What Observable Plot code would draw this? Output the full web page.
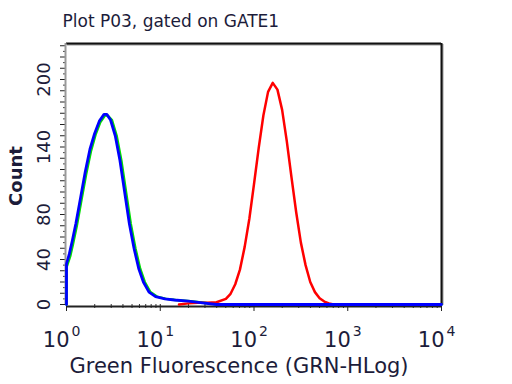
<!DOCTYPE html>
<html><head><meta charset="utf-8">
<script src="https://cdn.jsdelivr.net/npm/d3@7"></script>
<script src="https://cdn.jsdelivr.net/npm/@observablehq/plot@0.6"></script>
<style>body{margin:0;background:#fff} svg{font-family:"DejaVu Sans",sans-serif}</style>
</head><body><div id="chart"></div>
<script>
const title = "Plot P03, gated on GATE1";
const xLabel = "Green Fluorescence (GRN-HLog)";
const yLabel = "Count";
const xDecades = [0, 1, 2, 3, 4];
const yTickLabels = [0, 40, 80, 140, 200];

// log10 of fluorescence, and counts
const blueLog = [0, 0, 0.03, 0.06, 0.1, 0.15, 0.2, 0.25, 0.3, 0.35, 0.4, 0.43, 0.47, 0.52, 0.57, 0.62, 0.67, 0.72, 0.77, 0.82, 0.88, 0.95, 1.05, 1.15, 1.3, 1.45, 1.6, 4];
const blueCount = [0, 36, 45, 56, 72, 95, 118, 138, 152, 163, 169, 169, 164, 150, 128, 100, 72, 50, 32, 20, 11, 7, 5, 4, 3, 1.5, 0, 0];
const greenLog = [0, 0, 0.04, 0.07, 0.11, 0.16, 0.21, 0.26, 0.31, 0.36, 0.41, 0.44, 0.485, 0.535, 0.585, 0.635, 0.685, 0.735, 0.785, 0.835, 0.895, 0.965, 1.065, 1.165, 1.32, 1.47, 1.62, 4];
const greenCount = [0, 33, 43, 54, 70, 93, 116, 136, 151, 162, 168, 168, 164, 150, 128, 100, 72, 50, 32, 20, 11, 7, 5, 4, 3, 1.5, 0, 0];
const redLog = [1.2, 1.3, 1.4, 1.5, 1.6, 1.7, 1.75, 1.8, 1.85, 1.9, 1.95, 2.0, 2.05, 2.1, 2.15, 2.2, 2.25, 2.3, 2.35, 2.4, 2.45, 2.5, 2.55, 2.6, 2.65, 2.7, 2.75, 2.8, 2.85];
const redCount = [0, 1, 1.5, 1.5, 2, 5, 9.5, 18, 31, 51, 76, 107, 139, 168, 189, 197, 191, 173, 145, 113, 82, 55, 35, 20, 11, 5.5, 2.6, 1, 0];

const toPts = (lg, ct) => lg.map((v, i) => ({x: 10 ** v, y: ct[i]}));
const blue = toPts(blueLog, blueCount);
const green = toPts(greenLog, greenCount);
const red = toPts(redLog, redCount);

const yMax = 232;
const majorX = xDecades.map(d => 10 ** d);
const minorX = xDecades.slice(0, -1).flatMap(d => d3.range(2, 10).map(m => m * 10 ** d));
const majorY = d3.range(0, yMax, 10);
const minorY = d3.range(5, yMax, 10);
const txt = "#1c1c3a";

const chart = Plot.plot({
  width: 512, height: 384,
  marginLeft: 66, marginRight: 71, marginTop: 43, marginBottom: 80,
  x: {type: "log", domain: [1, 1e4]},
  y: {domain: [0, yMax]},
  marks: [
    Plot.axisY({ticks: minorY, tickSize: 3, tickFormat: () => "", label: null, stroke: "#444"}),
    Plot.axisY({ticks: majorY, tickSize: 6, tickFormat: () => "", label: null, stroke: "#222"}),
    Plot.axisX({ticks: minorX, tickSize: 4, tickFormat: () => "", label: null, stroke: "#333"}),
    Plot.axisX({ticks: majorX, tickSize: 7, tickFormat: () => "", label: null, stroke: "#222"}),
    Plot.ruleY([yMax], {stroke: "#999", strokeWidth: 2, dx: 1, dy: 1}),
    Plot.ruleX([1e4], {stroke: "#999", strokeWidth: 2, dx: 1, dy: 1}),
    Plot.ruleY([yMax], {stroke: "#111", strokeWidth: 2}),
    Plot.ruleX([1e4], {stroke: "#111", strokeWidth: 2}),
    Plot.ruleX([1], {stroke: "#999", strokeWidth: 2, dx: -1}),
    Plot.ruleY([0], {stroke: "#222", strokeWidth: 2, dy: 2}),
    Plot.line(green, {x: "x", y: "y", stroke: "#00dd00", strokeWidth: 2.5}),
    Plot.line(red, {x: "x", y: "y", stroke: "#ff0000", strokeWidth: 2.5}),
    Plot.line(blue, {x: "x", y: "y", stroke: "#0000ff", strokeWidth: 2.8}),
    Plot.text(yTickLabels, {y: d => d, frameAnchor: "left", dx: -22, dy: 0, rotate: -90, text: d => String(d), textAnchor: "middle", fontSize: 18, fill: txt}),
    Plot.text(xDecades, {x: d => 10 ** d, frameAnchor: "bottom", dy: 28, dx: 3, text: () => "10", textAnchor: "end", lineAnchor: "top", fontSize: 21, fill: txt}),
    Plot.text(xDecades, {x: d => 10 ** d, frameAnchor: "bottom", dy: 22, dx: 5, text: d => String(d), textAnchor: "start", lineAnchor: "top", fontSize: 14, fill: txt}),
    Plot.text([xLabel], {frameAnchor: "bottom", dy: 54, dx: -15, textAnchor: "middle", lineAnchor: "top", fontSize: 21, fill: txt}),
    Plot.text([yLabel], {frameAnchor: "left", dx: -50, dy: 2, rotate: -90, textAnchor: "middle", fontSize: 18, fontWeight: "bold", fill: txt}),
    Plot.text([title], {frameAnchor: "top-left", dx: -4, dy: -17, textAnchor: "start", lineAnchor: "bottom", fontSize: 17, fill: txt})
  ]
});
document.getElementById("chart").append(chart);
</script></body></html>
